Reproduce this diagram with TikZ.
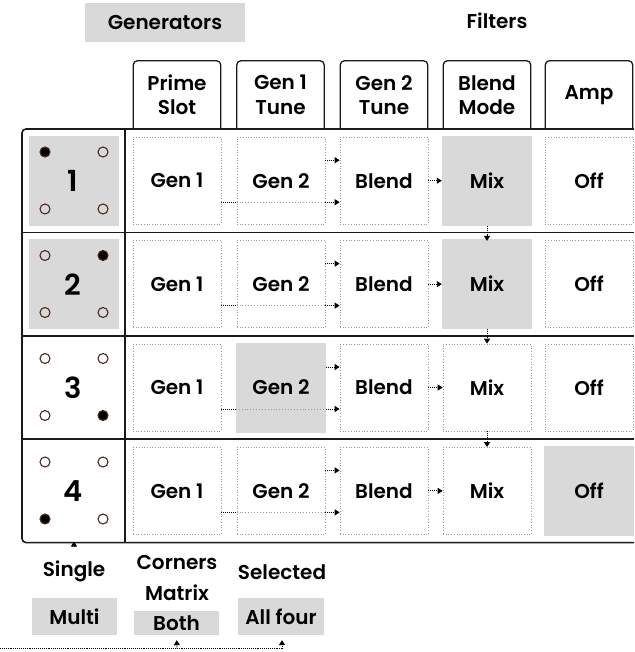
\documentclass[tikz,border=0pt]{standalone}
\usepackage{fontspec}
\setmainfont{Poppins}[UprightFont=* SemiBold, BoldFont=* SemiBold]
\usetikzlibrary{arrows.meta,calc}
\definecolor{cellgray}{HTML}{D9D9D9}
\definecolor{framec}{HTML}{1A1A1A}
\definecolor{dotbrown}{HTML}{4A2A1E}
\definecolor{dotgray}{HTML}{999999}
\tikzset{
  lbl/.style={font=\fontsize{20}{24.5}\selectfont, align=center, text=black},
  cell/.style={lbl, draw=dotgray, dotted, line width=0.7pt, minimum width=88pt, minimum height=87pt, inner sep=0pt},
  gcell/.style={lbl, fill=cellgray, minimum width=90pt, minimum height=90pt, inner sep=0pt},
  gpanel/.style={fill=cellgray, minimum width=90pt, minimum height=90pt, inner sep=0pt},
  digit/.style={font=\fontsize{29}{32}\selectfont, inner sep=0pt},
  tabnode/.style={lbl, minimum width=87pt, minimum height=68pt, inner sep=0pt},
  tabline/.style={draw=framec, line width=1.3pt, rounded corners=4pt},
  frame/.style={draw=framec, line width=1.6pt},
  corner/.style={circle, draw=dotbrown, line width=1.1pt, minimum size=10pt, inner sep=0pt},
  cornerOn/.style={corner, fill=black},
  conn/.style={draw=black, densely dotted, line width=0.9pt, -{Triangle[length=5pt,width=6pt]}},
  connplain/.style={draw=black, densely dotted, line width=0.9pt},
  through/.style={draw=gray!80, dotted, line width=0.9pt},
  tagbox/.style={lbl, fill=cellgray, inner sep=0pt},
}
\begin{document}
\begin{tikzpicture}[x=1pt,y=-1pt]
\useasboundingbox (0,0) rectangle (634,652);

% top labels
\node[tagbox, minimum width=160pt, minimum height=39pt] (gens) at (165,22.5) {Generators};
\node[lbl] (filt) at (497,21) {Filters};

% header tabs
\node[tabnode] (t1) at (177,95) {Prime\\Slot};
\node[tabnode] (t2) at (280.5,95) {Gen 1\\Tune};
\node[tabnode] (t3) at (384,95) {Gen 2\\Tune};
\node[tabnode] (t4) at (487,95) {Blend\\Mode};
\node[tabnode] (t5) at (589,95) {Amp};
\foreach \t in {t1,t2,t3,t4,t5}
  \draw[tabline] (\t.south west) -- (\t.north west) -- (\t.north east) -- (\t.south east);

% frame
\draw[frame] (634,129) -- (125,129);
\draw[frame, rounded corners=4pt] (125,129) -- (22,129) -- (22,542.6) -- (634,542.6);
\foreach \y in {232.4,335.8,439.2} \draw[frame] (22,\y) -- (634,\y);
\draw[frame] (125,129) -- (125,542.6);

% row 1
\node[gpanel] (p1) at (74,180.7) {};
\node[digit] (d1) at (73,181) {1};
\node[cornerOn] (c1a) at (45,152) {};
\node[corner] (c1b) at (103,152) {};
\node[corner] (c1c) at (45,209) {};
\node[corner] (c1d) at (103,209) {};
\node[cell] (ga1) at (177,180.7) {Gen 1};
\node[cell] (gb1) at (281,180.7) {Gen 2};
\node[cell] (bl1) at (384,180.7) {Blend};
\node[gcell] (mx1) at (487,180.7) {Mix};
\node[cell] (of1) at (589,180.7) {Off};

% row 2
\node[gpanel] (p2) at (74,284.1) {};
\node[digit] (d2) at (73,284.5) {2};
\node[corner] (c2a) at (45,255.5) {};
\node[cornerOn] (c2b) at (103,255.5) {};
\node[corner] (c2c) at (45,312.5) {};
\node[corner] (c2d) at (103,312.5) {};
\node[cell] (ga2) at (177,284.1) {Gen 1};
\node[cell] (gb2) at (281,284.1) {Gen 2};
\node[cell] (bl2) at (384,284.1) {Blend};
\node[gcell] (mx2) at (487,284.1) {Mix};
\node[cell] (of2) at (589,284.1) {Off};

% row 3
\node[digit] (d3) at (73,388) {3};
\node[corner] (c3a) at (45,358.5) {};
\node[corner] (c3b) at (103,358.5) {};
\node[corner] (c3c) at (45,415.5) {};
\node[cornerOn] (c3d) at (103,415.5) {};
\node[cell] (ga3) at (177,387.5) {Gen 1};
\node[gcell] (gb3) at (281,387.5) {Gen 2};
\node[cell] (bl3) at (384,387.5) {Blend};
\node[cell] (mx3) at (487,387.5) {Mix};
\node[cell] (of3) at (589,387.5) {Off};

% row 4
\node[digit] (d4) at (73,491) {4};
\node[corner] (c4a) at (45,462) {};
\node[corner] (c4b) at (103,462) {};
\node[cornerOn] (c4c) at (45,519) {};
\node[corner] (c4d) at (103,519) {};
\node[cell] (ga4) at (177,490.9) {Gen 1};
\node[cell] (gb4) at (281,490.9) {Gen 2};
\node[cell] (bl4) at (384,490.9) {Blend};
\node[cell] (mx4) at (487,490.9) {Mix};
\node[gcell] (of4) at (589,490.9) {Off};

% row connectors
\foreach \r in {1,2,3,4} {
  \draw[conn] ([yshift=20.5pt]gb\r.east) -- ([yshift=20.5pt]bl\r.west);
  \draw[connplain] ([yshift=-21.5pt]ga\r.east) -- ([yshift=-21.5pt]gb\r.west);
  \draw[through] ([yshift=-21.5pt]gb\r.west) -- ([yshift=-21.5pt]gb\r.east);
  \draw[conn] ([yshift=-21.5pt]gb\r.east) -- ([yshift=-21.5pt]bl\r.west);
  \draw[conn] (bl\r.east) -- (mx\r.west);
}
\draw[conn] (mx1.south) -- ([yshift=-2pt]mx2.north);
\draw[conn] (mx2.south) -- (mx3.north);
\draw[conn] (mx3.south) -- (mx4.north);

% bottom labels
\node[lbl] (single) at (74,571) {Single};
\node[tagbox, minimum width=85pt, minimum height=37pt] (multi) at (74.5,616.5) {Multi};
\node[lbl] (corners) at (177,563) {Corners};
\node[lbl] (matrix) at (177,593) {Matrix};
\node[tagbox, minimum width=85pt, minimum height=24pt] (both) at (176.5,623) {Both};
\node[lbl] (selected) at (282,572) {Selected};
\node[tagbox, minimum width=86pt, minimum height=37pt] (allfour) at (281,616.5) {All four};

% bottom connectors
\coordinate (pb) at (74,541.5);
\coordinate (pbs) at (74,547);
\draw[conn] (pbs) -- (pb);
\coordinate (bl) at (0,648.5);
\coordinate (b1) at (177,648.5);
\coordinate (b2) at (282,648.5);
\draw[connplain] (bl) -- (b2);
\draw[conn, shorten >=5pt] (b1) -- (both.south);
\draw[conn, shorten >=5pt] (b2) -- (allfour.south -| b2);
\end{tikzpicture}
\end{document}
